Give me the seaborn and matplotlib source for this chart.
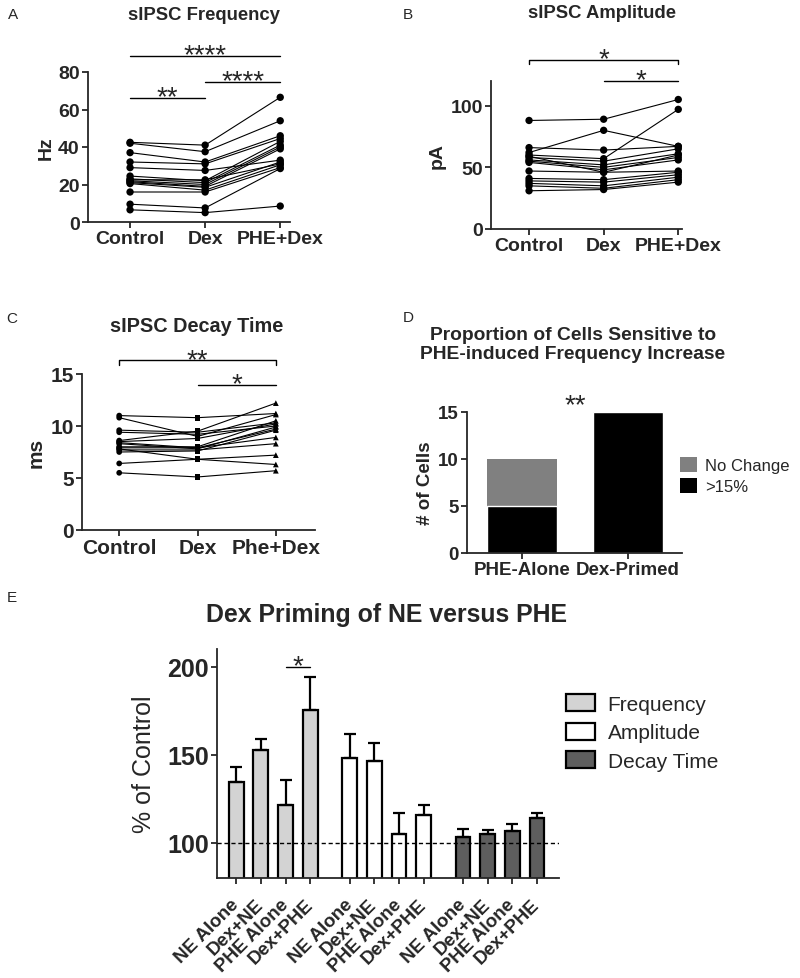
import numpy as np
import pandas as pd
import seaborn as sns
import matplotlib.pyplot as plt
from matplotlib.patches import Patch

# ---- data ----
cond_ab = ["Control", "Dex", "PHE+Dex"]
cond_c = ["Control", "Dex", "Phe+Dex"]

# A: sIPSC frequency (Hz), one entry per cell
freq_control = [42.5, 42.0, 37.0, 32.0, 29.0, 24.5, 23.0, 22.0, 21.5, 21.0, 20.5, 16.0, 9.5, 6.5, 22.5]
freq_dex = [41.0, 37.5, 32.0, 31.0, 27.5, 22.0, 21.0, 20.0, 19.0, 18.5, 17.0, 16.0, 7.5, 5.0, 22.5]
freq_phe = [66.5, 54.0, 46.0, 44.5, 33.0, 43.0, 41.0, 40.0, 39.0, 32.0, 30.5, 29.0, 28.5, 8.5, 31.0]

# B: sIPSC amplitude (pA)
amp_control = [88, 62, 66, 60, 58, 56, 55, 54, 59, 47, 41, 39, 37, 35, 31]
amp_dex = [89, 80, 64, 57, 55, 52, 50, 48, 46, 46, 40, 38, 35, 33, 32]
amp_phe = [105, 67, 67, 97, 65, 61, 58, 56, 60, 47, 46, 44, 42, 40, 38]

# C: sIPSC decay time (ms)
decay_control = [11.0, 10.8, 9.6, 9.4, 8.6, 8.5, 8.4, 8.3, 7.9, 7.7, 7.5, 7.8, 6.4, 5.5, 8.0]
decay_dex = [10.8, 9.0, 9.4, 9.2, 9.5, 8.8, 7.9, 7.8, 7.9, 7.7, 7.6, 6.8, 6.8, 5.1, 8.0]
decay_phe = [11.2, 11.1, 10.3, 10.0, 12.2, 10.2, 9.7, 9.9, 8.9, 8.3, 9.6, 6.3, 7.2, 5.7, 10.5]

# D: number of cells
d_groups = ["PHE-Alone", "Dex-Primed"]
d_no_change = [5, 0]
d_over15 = [5, 15]

# E: % of control, mean and SEM
e_treatments = ["NE Alone", "Dex+NE", "PHE Alone", "Dex+PHE"]
e_measures = ["Frequency", "Amplitude", "Decay Time"]
e_freq_mean = [134.4, 152.7, 121.3, 175.1]
e_freq_sem = [8.6, 6.4, 14.1, 19.2]
e_amp_mean = [148.1, 146.2, 104.8, 115.8]
e_amp_sem = [13.7, 10.6, 12.3, 5.7]
e_decay_mean = [103.4, 105.1, 106.7, 113.9]
e_decay_sem = [4.4, 2.1, 3.8, 3.2]
e_colors = ["#d3d3d3", "#ffffff", "#5e5e5e"]

sns.set_style("ticks")
plt.rcParams["font.family"] = ["Liberation Sans", "DejaVu Sans"]
plt.rcParams["axes.linewidth"] = 1.3
plt.rcParams["xtick.major.width"] = 1.3
plt.rcParams["ytick.major.width"] = 1.3
plt.rcParams["xtick.major.size"] = 4
plt.rcParams["ytick.major.size"] = 4

W, H = 800, 979
fig = plt.figure(figsize=(W / 100, H / 100), dpi=100)


def px_axes(left, top, right, bottom):
    return fig.add_axes([left / W, 1 - bottom / H, (right - left) / W, (bottom - top) / H])


def paired_panel(ax, labels, ctrl, dex, phe, markers, msize):
    n = len(ctrl)
    df = pd.DataFrame({
        "cell": np.tile(np.arange(n), 3),
        "cond": np.repeat(labels, n),
        "value": list(ctrl) + list(dex) + list(phe),
    })
    df["pos"] = df["cond"].map({c: i for i, c in enumerate(labels)})
    sns.lineplot(data=df, x="pos", y="value", units="cell", estimator=None,
                 color="black", lw=0.8, legend=False, ax=ax)
    sns.scatterplot(data=df, x="pos", y="value", style="cond",
                    markers=dict(zip(labels, markers)), color="black",
                    s=msize, linewidth=0, legend=False, ax=ax, zorder=3)
    ax.set_xticks(range(len(labels)))
    ax.set_xticklabels(labels)
    ax.set_xlabel("")
    sns.despine(ax=ax)


def sig(ax, x0, x1, y, text, tick=0.0, fs=20):
    ax.plot([x0, x0, x1, x1], [y - tick, y, y, y - tick], color="black", lw=1, clip_on=False)
    ax.annotate(text, ((x0 + x1) / 2, y), xytext=(0, -4.5), textcoords="offset points",
                ha="center", va="baseline", fontsize=fs, annotation_clip=False)


def style_ticks(ax, xfs, yfs):
    for lab in ax.get_xticklabels():
        lab.set_fontsize(xfs)
        lab.set_fontweight("bold")
    for lab in ax.get_yticklabels():
        lab.set_fontsize(yfs)
        lab.set_fontweight("bold")
    ax.tick_params(axis="x", pad=1.5)
    ax.tick_params(axis="y", pad=2)


# ---- A ----
axA = px_axes(88, 73, 290, 223)
paired_panel(axA, cond_ab, freq_control, freq_dex, freq_phe, ["o", "o", "o"], 28)
axA.set_xlim(-0.56, 2.13)
axA.set_ylim(0, 80)
axA.set_yticks([0, 20, 40, 60, 80])
axA.set_ylabel("Hz", fontsize=14, fontweight="bold", va="center")
axA.yaxis.set_label_coords(-0.208, 0.5)
style_ticks(axA, 14, 14)
sig(axA, 0, 2, 88.5, "****")
sig(axA, 0, 1, 66, "**")
sig(axA, 1, 2, 74.7, "****")

# ---- B ----
axB = px_axes(491, 82, 682, 230)
paired_panel(axB, cond_ab, amp_control, amp_dex, amp_phe, ["o", "o", "o"], 28)
axB.set_xlim(-0.51, 2.05)
axB.set_ylim(0, 120)
axB.set_yticks([0, 50, 100])
axB.set_ylabel("pA", fontsize=14, fontweight="bold", va="center")
axB.yaxis.set_label_coords(-0.283, 0.5)
style_ticks(axB, 14, 14)
sig(axB, 0, 2, 137, "*", tick=3)
sig(axB, 1, 2, 120, "*")

# ---- C ----
axC = px_axes(82, 375, 315, 531)
paired_panel(axC, cond_c, decay_control, decay_dex, decay_phe, ["o", "s", "^"], 17)
axC.set_xlim(-0.475, 2.5)
axC.set_ylim(0, 15)
axC.set_yticks([0, 5, 10, 15])
axC.set_ylabel("ms", fontsize=15, fontweight="bold", va="center")
axC.yaxis.set_label_coords(-0.196, 0.5)
style_ticks(axC, 15, 15)
sig(axC, 0, 2, 16.3, "**", tick=0.4)
sig(axC, 1, 2, 13.9, "*")

# ---- D ----
axD = px_axes(467, 413, 682, 554)
d_df = pd.DataFrame({"group": d_groups, "no_change": d_no_change, "over15": d_over15})
d_df["total"] = d_df["no_change"] + d_df["over15"]
sns.barplot(data=d_df, x="group", y="total", color="#808080", saturation=1,
            width=0.66, linewidth=0, ax=axD)
sns.barplot(data=d_df, x="group", y="over15", color="black", saturation=1,
            width=0.66, edgecolor="white", linewidth=1, ax=axD)
axD.set_xlim(-0.52, 1.51)
axD.set_ylim(0, 15)
axD.set_yticks([0, 5, 10, 15])
axD.set_xlabel("")
axD.set_ylabel("# of Cells", fontsize=13.5, fontweight="bold", va="center")
axD.yaxis.set_label_coords(-0.193, 0.5)
sns.despine(ax=axD)
style_ticks(axD, 13.5, 13.5)
axD.annotate("**", (0.5, 15), xytext=(0, 0), textcoords="offset points",
             ha="center", va="baseline", fontsize=20, annotation_clip=False)
axD.legend(handles=[Patch(facecolor="#808080", edgecolor="none"),
                    Patch(facecolor="black", edgecolor="none")],
           labels=["No Change", ">15%"], loc="upper left",
           bbox_to_anchor=(680 / W, 1 - 458 / H), bbox_transform=fig.transFigure,
           frameon=False, fontsize=12, handlelength=1.0, handleheight=1.0,
           handletextpad=0.5, labelspacing=0.3, borderaxespad=0, borderpad=0)

# ---- E ----
axE = px_axes(217, 650, 559, 879)
e_df = pd.DataFrame({
    "measure": np.repeat(e_measures, len(e_treatments)),
    "treatment": e_treatments * len(e_measures),
    "mean": e_freq_mean + e_amp_mean + e_decay_mean,
    "sem": e_freq_sem + e_amp_sem + e_decay_sem,
})
e_df["pos"] = (np.repeat(np.arange(len(e_measures)), len(e_treatments)) * 4.6
               + np.tile(np.arange(len(e_treatments)), len(e_measures)))
sns.barplot(data=e_df, x="pos", y="mean", hue="measure",
            palette=dict(zip(e_measures, e_colors)), saturation=1,
            native_scale=True, dodge=False, width=0.6, errorbar=None,
            edgecolor="black", linewidth=1.6, legend=False, ax=axE)
axE.errorbar(e_df["pos"], e_df["mean"], yerr=[np.zeros(len(e_df)), e_df["sem"]],
             fmt="none", ecolor="black", elinewidth=1.6, capsize=4, capthick=1.6, zorder=1)
axE.axhline(100, color="black", lw=1, ls=(0, (3, 2)), zorder=4)
axE.set_xlim(-0.78, 13.09)
axE.set_ylim(80, 210)
axE.set_yticks([100, 150, 200])
axE.set_xticks(e_df["pos"])
axE.set_xticklabels(e_df["treatment"], rotation=45, ha="right", va="center",
                    rotation_mode="anchor")
axE.set_xlabel("")
axE.set_ylabel("% of Control", fontsize=18, va="center")
axE.yaxis.set_label_coords(-0.212, 0.5)
sns.despine(ax=axE)
style_ticks(axE, 13.5, 18)
axE.tick_params(axis="x", pad=13)
sig(axE, 2, 3, 200, "*")
axE.legend(handles=[Patch(facecolor=c, edgecolor="black", lw=1.6) for c in e_colors],
           labels=e_measures, loc="upper left",
           bbox_to_anchor=(566 / W, 1 - 695 / H), bbox_transform=fig.transFigure,
           frameon=False, fontsize=15, handlelength=1.4, handleheight=0.9,
           handletextpad=0.6, labelspacing=0.42, borderaxespad=0, borderpad=0)

# ---- titles and panel letters ----
fig.text(204 / W, 1 - 15 / H, "sIPSC Frequency", ha="center", va="center", fontsize=13.3, fontweight="bold")
fig.text(602 / W, 1 - 14 / H, "sIPSC Amplitude", ha="center", va="center", fontsize=13.3, fontweight="bold")
fig.text(197 / W, 1 - 327 / H, "sIPSC Decay Time", ha="center", va="center", fontsize=14.3, fontweight="bold")
fig.text(573 / W, 1 - 345 / H, "Proportion of Cells Sensitive to\nPHE-induced Frequency Increase",
         ha="center", va="center", fontsize=13.9, fontweight="bold", linespacing=1.15)
fig.text(387 / W, 1 - 615 / H, "Dex Priming of NE versus PHE", ha="center", va="center",
         fontsize=17.9, fontweight="bold")
for letter, x, y in [("A", 13, 15), ("B", 408, 15), ("C", 12, 319), ("D", 408, 318), ("E", 12, 598)]:
    fig.text(x / W, 1 - y / H, letter, ha="center", va="center", fontsize=11)

fig.savefig("out.png", dpi=100)
